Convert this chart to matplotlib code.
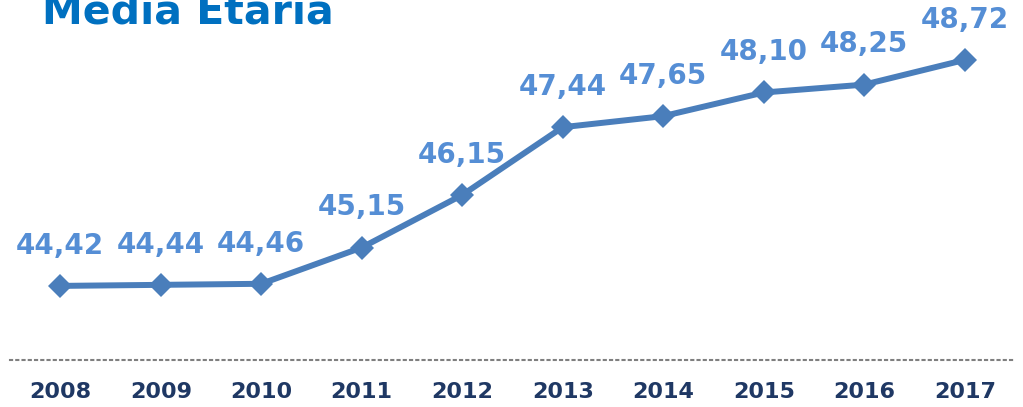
import matplotlib
matplotlib.use('Agg')
import matplotlib.pyplot as plt

years = ['2008', '2009', '2010', '2011', '2012', '2013', '2014', '2015', '2016', '2017']
ages = [44.42, 44.44, 44.46, 45.15, 46.15, 47.44, 47.65, 48.10, 48.25, 48.72]

plt.rcParams['font.family'] = ['DejaVu Sans']

fig = plt.figure(figsize=(10.23, 4.07), dpi=100)
ax = fig.add_axes([10 / 1023, 47 / 407, 1005 / 1023, 360 / 407])

x = range(len(years))
ax.plot(x, ages, color='#4A7EBB', lw=4.3, marker='D', markersize=12,
        markeredgewidth=0, solid_joinstyle='round')

for i, v in zip(x, ages):
    ax.annotate(f'{v:.2f}'.replace('.', ','), (i, v), xytext=(0, 29),
                textcoords='offset points', ha='center', va='center',
                fontsize=20, fontweight='bold', color='#558ED5')

ax.set_xlim(-0.5, len(years) - 0.5)
ax.set_ylim(43.01, 49.86)
ax.set_xticks(list(x))
ax.set_xticklabels(years, fontsize=16, fontweight='bold', color='#1F3864')
ax.tick_params(axis='x', length=0, pad=16)
ax.set_yticks([])
for s in ['top', 'left', 'right']:
    ax.spines[s].set_visible(False)
ax.spines['bottom'].set_linestyle((0, (1, 2)))
ax.spines['bottom'].set_color('#7F7F7F')
ax.spines['bottom'].set_linewidth(1.5)
ax.patch.set_visible(False)

fig.text(42 / 1023, (407 - 23) / 407, 'Media Etaria', fontsize=29.5,
         fontweight='bold', color='#0070C0', va='baseline', ha='left')

fig.savefig('out.png', dpi=100)
